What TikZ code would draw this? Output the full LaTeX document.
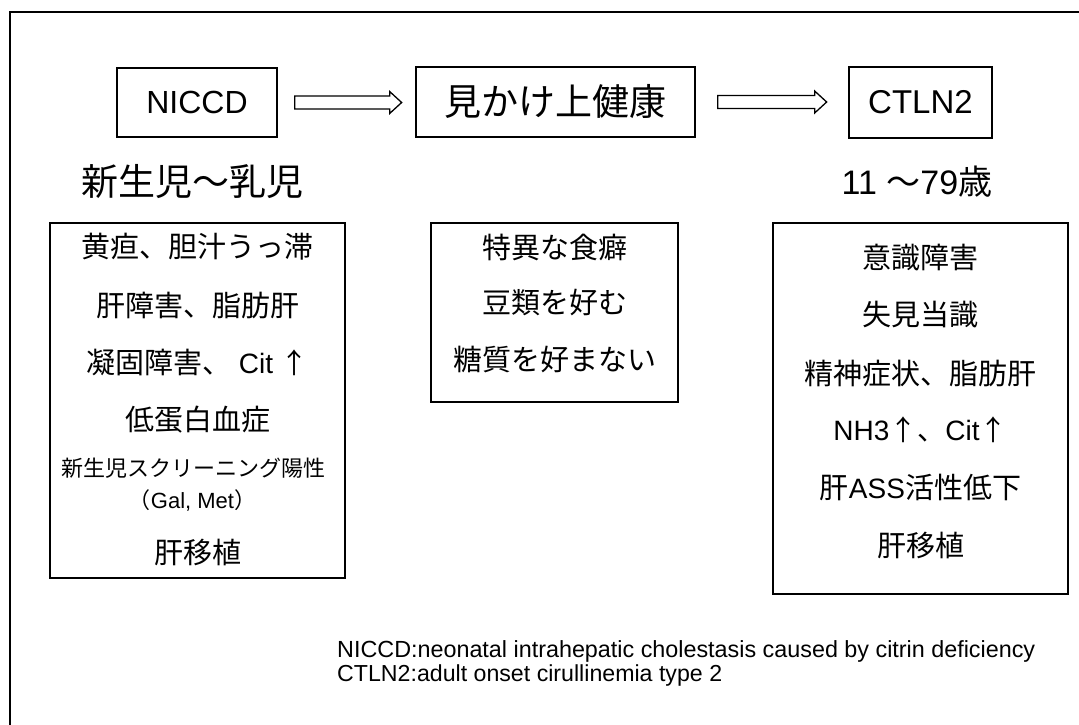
\documentclass[tikz,border=0pt]{standalone}
\usepackage{fontspec}
\usepackage{graphicx}
\setmainfont{Liberation Sans}
\newfontfamily\jp{Noto Sans CJK JP}
\usetikzlibrary{calc}
\newcommand\myfs[1]{\fontsize{#1}{#1}\selectfont}
\begin{document}
\begin{tikzpicture}[x=1pt,y=-1pt,
  box/.style={draw, line width=1.3pt, inner sep=0pt},
  txt/.style={inner sep=0pt, anchor=center},
  hollow/.style={draw, line width=1.3pt, line join=miter},
  frame/.style={line width=2.4pt}]
\useasboundingbox (0,0) rectangle (1079,724);
\fill[white] (0,0) rectangle (1079,724);
\clip (0,0) rectangle (1079,724);
\draw[frame] (10,740) -- (10,12) -- (1095,12);

% top row
\node[box, minimum width=160pt, minimum height=69pt] (nic) at (197,102.5) {\myfs{32}NICCD};
\node[box, minimum width=279pt, minimum height=70pt] (mid) at (555.5,102) {\jp\myfs{37}見かけ上健康};
\node[box, minimum width=143pt, minimum height=71pt] (ctl) at (920.5,102.5) {\myfs{33}CTLN2};

\draw[hollow] ($(nic.east)+(17,-6.5)$) -- ++(95,0) -- ++(0,-4.5) -- ++(12,11) -- ++(-12,11) -- ++(0,-4.5) -- ++(-95,0) -- cycle;
\draw[hollow] ($(mid.east)+(22,-6.5)$) -- ++(97,0) -- ++(0,-4.5) -- ++(12,11) -- ++(-12,11) -- ++(0,-4.5) -- ++(-97,0) -- cycle;

% ages
\node[txt] (age1) at (192,182) {\jp\myfs{37}新生児〜乳児};
\node[txt] (age2) at (917,182) {\myfs{34}11 {\jp 〜}79{\jp 歳}};

% left box
\node[box, minimum width=295pt, minimum height=355pt] (lbox) at (197.5,400.5) {};
\node[txt] (l1) at (197.5,247) {\jp\myfs{29}黄疸、胆汁うっ滞};
\node[txt] (l2) at (197.5,305) {\jp\myfs{29}肝障害、脂肪肝};
\node[txt] (l3) at (197.5,362) {\myfs{28}{\jp\myfs{29}凝固障害、} Cit {\jp ↑}};
\node[txt] (l4) at (197.5,420) {\jp\myfs{29}低蛋白血症};
\node[txt] (l5) at (193.5,468) {\jp\myfs{22}新生児スクリーニング陽性};
\node[txt] (l6) at (192.5,500) {\myfs{22}{\jp （}Gal, Met{\jp ）}};
\node[txt] (l7) at (197.5,552) {\jp\myfs{29}肝移植};

% middle box
\node[box, minimum width=247pt, minimum height=179pt] (mbox) at (554.5,312.5) {};
\node[txt] (m1) at (554.5,247) {\jp\myfs{29}特異な食癖};
\node[txt] (m2) at (554.5,303) {\jp\myfs{29}豆類を好む};
\node[txt] (m3) at (554.5,360) {\jp\myfs{29}糖質を好まない};

% right box
\node[box, minimum width=295pt, minimum height=371pt] (rbox) at (920.5,408.5) {};
\node[txt] (r1) at (920.5,258) {\jp\myfs{29}意識障害};
\node[txt] (r2) at (920.5,315) {\jp\myfs{29}失見当識};
\node[txt] (r3) at (920.5,373) {\jp\myfs{29}精神症状、脂肪肝};
\node[txt] (r4) at (920.5,430) {\myfs{28}NH3{\jp ↑、}Cit{\jp ↑}};
\node[txt] (r5) at (920.5,487) {\myfs{28}{\jp\myfs{29}肝}ASS{\jp\myfs{29}活性低下}};
\node[txt] (r6) at (920.5,545) {\jp\myfs{29}肝移植};

% footnote
\node[anchor=west, inner sep=0pt] (fn1) at (337,651) {\resizebox{698pt}{!}{NICCD:neonatal intrahepatic cholestasis caused by citrin deficiency}};
\node[anchor=west, inner sep=0pt] (fn2) at (337,675) {\resizebox{385pt}{!}{CTLN2:adult onset cirullinemia type 2}};
\end{tikzpicture}
\end{document}
